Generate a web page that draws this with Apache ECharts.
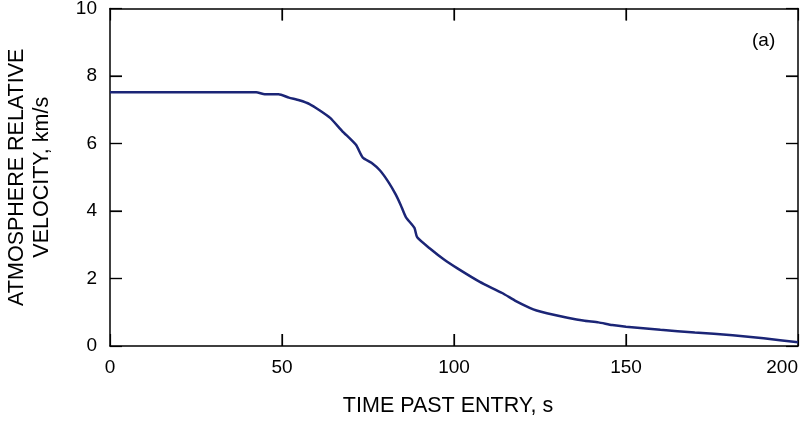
<!DOCTYPE html>
<html>
<head>
<meta charset="utf-8">
<script src="https://cdn.jsdelivr.net/npm/echarts@6/dist/echarts.min.js"></script>
<style>
  html, body { margin: 0; padding: 0; background: #fff; }
  #chart { width: 806px; height: 423px; }
</style>
</head>
<body>
<div id="chart"></div>
<script>
// time past entry, s
const timeS = [0, 42.5, 45, 49, 52, 55, 58, 61, 64, 67.5, 71.5, 73.5, 76, 78.5, 81, 83, 84.5, 86, 88.5, 89.3,
  93, 97, 101, 107.5, 114, 118, 122, 124, 127, 133, 138, 142, 146, 150, 160, 170, 181, 190, 200];
// atmosphere relative velocity, km/s
const velocity = [7.52, 7.52, 7.46, 7.46, 7.36, 7.28, 7.17, 6.98, 6.76, 6.37, 5.96, 5.58, 5.43, 5.2, 4.85, 4.5, 4.18, 3.82, 3.5, 3.22,
  2.89, 2.57, 2.3, 1.9, 1.57, 1.33, 1.13, 1.05, 0.97, 0.84, 0.75, 0.70, 0.62, 0.57, 0.48, 0.40, 0.32, 0.23, 0.11];
const xTicks = [0, 50, 100, 150, 200];
const yTicks = [0, 2, 4, 6, 8, 10];

const font = 'Liberation Sans, Arial, sans-serif';
const black = '#000';
const tickLen = 12;

const xMin = xTicks[0], xMax = xTicks[xTicks.length - 1];
const yMin = yTicks[0], yMax = yTicks[yTicks.length - 1];

const chart = echarts.init(document.getElementById('chart'));

function makeAxis(extra) {
  return Object.assign({
    type: 'value',
    axisLine: { show: true, onZero: false, lineStyle: { color: black, width: 1.5 } },
    axisTick: { show: true, inside: true, length: tickLen, lineStyle: { color: black, width: 1.2 } },
    splitLine: { show: false }
  }, extra);
}

// inward ticks on all four sides, placed through the axis scales
function tickLine(x1, y1, x2, y2) {
  return { type: 'line', shape: { x1: x1, y1: y1, x2: x2, y2: y2 }, style: { stroke: black, lineWidth: 1.2 } };
}
function renderXTick(params, api) {
  const t = api.value(0);
  const bottom = api.coord([t, yMin]);
  const top = api.coord([t, yMax]);
  return {
    type: 'group',
    children: [
      tickLine(bottom[0], bottom[1], bottom[0], bottom[1] - tickLen),
      tickLine(top[0], top[1], top[0], top[1] + tickLen)
    ]
  };
}
function renderYTick(params, api) {
  const v = api.value(1);
  const left = api.coord([xMin, v]);
  const right = api.coord([xMax, v]);
  return {
    type: 'group',
    children: [
      tickLine(left[0], left[1], left[0] + tickLen, left[1]),
      tickLine(right[0], right[1], right[0] - tickLen, right[1])
    ]
  };
}

chart.setOption({
  backgroundColor: '#fff',
  animation: false,
  grid: { left: 110, right: 8, top: 8.5, bottom: 77, outerBoundsMode: 'none', containLabel: false },
  xAxis: [
    makeAxis({
      position: 'bottom',
      min: xMin,
      max: xMax,
      interval: 50,
      name: 'TIME PAST ENTRY, s',
      nameLocation: 'middle',
      nameGap: 49,
      nameTextStyle: { color: black, fontFamily: font, fontSize: 21.5, padding: [0, 12, 0, 0] },
      axisLabel: { color: black, fontFamily: font, fontSize: 19, margin: 12, alignMaxLabel: 'right' }
    }),
    makeAxis({
      position: 'top',
      min: xMin,
      max: xMax,
      interval: 50,
      axisLabel: { show: false }
    })
  ],
  yAxis: [
    makeAxis({
      position: 'left',
      min: yMin,
      max: yMax,
      interval: 2,
      name: 'ATMOSPHERE RELATIVE\nVELOCITY, km/s',
      nameLocation: 'middle',
      nameGap: 55,
      nameTextStyle: { color: black, fontFamily: font, fontSize: 21.5, lineHeight: 25 },
      axisLabel: { color: black, fontFamily: font, fontSize: 19, margin: 13 }
    }),
    makeAxis({
      position: 'right',
      min: yMin,
      max: yMax,
      interval: 2,
      axisLabel: { show: false }
    })
  ],
  graphic: [
    {
      type: 'text',
      left: 752,
      top: 31,
      style: { text: '(a)', fill: black, font: '19px ' + font }
    }
  ],
  series: [
    {
      type: 'custom',
      name: 'xTicks',
      renderItem: renderXTick,
      data: xTicks.slice(1, -1).map(t => [t, yMin]),
      clip: false,
      silent: true
    },
    {
      type: 'custom',
      name: 'yTicks',
      renderItem: renderYTick,
      data: yTicks.slice(1, -1).map(v => [xMin, v]),
      clip: false,
      silent: true
    },
    {
      type: 'line',
      data: timeS.map((t, i) => [t, velocity[i]]),
      smooth: 0.2,
      showSymbol: false,
      lineStyle: { color: '#1b2576', width: 2.5 }
    }
  ]
});
</script>
</body>
</html>
